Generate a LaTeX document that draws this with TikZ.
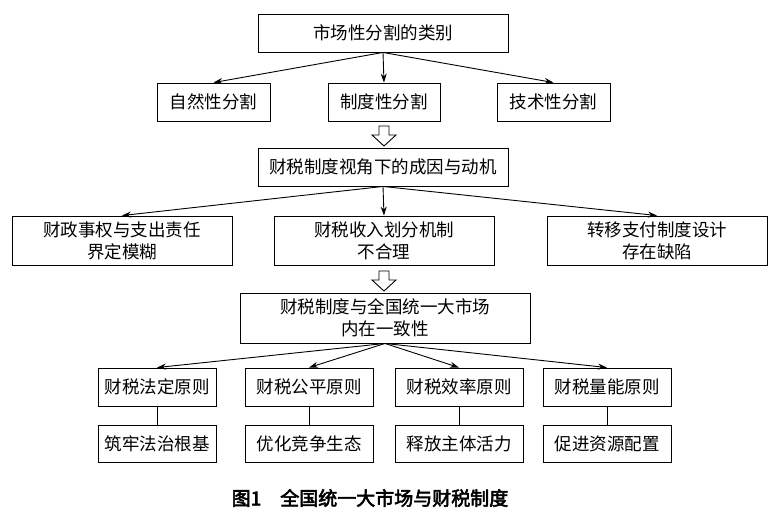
\documentclass[tikz,border=0pt]{standalone}
\usepackage{fontspec}
\setmainfont{Noto Sans CJK SC}[AutoFakeBold=3]
\usetikzlibrary{arrows.meta}
\begin{document}
\begin{tikzpicture}[x=1pt,y=-1pt,
  bx/.style={draw,line width=0.9pt,inner sep=0pt,align=center,font=\fontsize{17.5}{22}\selectfont},
  ar/.style={-{Stealth[length=9pt,width=6pt]},line width=0.9pt},
  ln/.style={line width=0.9pt}]
\useasboundingbox (0,0) rectangle (779,523);
\newcommand\bxx[6]{\node[bx,minimum width=#4-#2,minimum height=#5-#3] (#1) at ({(#2+#4)/2},{(#3+#5)/2}) {#6};}
\bxx{a}{258}{14}{508}{52}{市场性分割的类别}
\bxx{b1}{157}{83}{270}{121}{自然性分割}
\bxx{b2}{328}{83}{440}{121}{制度性分割}
\bxx{b3}{497}{83}{610}{121}{技术性分割}
\bxx{c}{258}{148}{508}{186}{财税制度视角下的成因与动机}
\bxx{d1}{12}{216}{232}{265}{财政事权与支出责任\\界定模糊}
\bxx{d2}{274}{216}{494}{265}{财税收入划分机制\\不合理}
\bxx{d3}{547}{216}{767}{265}{转移支付制度设计\\存在缺陷}
\bxx{e}{240}{293}{530}{343}{财税制度与全国统一大市场\\内在一致性}
\bxx{f1}{98}{368}{216}{406}{财税法定原则}
\bxx{f2}{245}{368}{373}{406}{财税公平原则}
\bxx{f3}{395}{368}{523}{406}{财税效率原则}
\bxx{f4}{543}{368}{671}{406}{财税量能原则}
\bxx{g1}{98}{425}{216}{462}{筑牢法治根基}
\bxx{g2}{245}{425}{373}{462}{优化竞争生态}
\bxx{g3}{395}{425}{523}{462}{释放主体活力}
\bxx{g4}{543}{425}{671}{462}{促进资源配置}
\foreach \t in {b1,b2,b3} \draw[ar] (a.south) -- (\t.north);
\foreach \t in {d1,d2,d3} \draw[ar] (c.south) -- (\t.north);
\foreach \t in {f1,f2,f3,f4} \draw[ar] (e.south) -- (\t.north);
\foreach \i in {1,2,3,4} \draw[ln] (f\i.south) -- (g\i.north);
\foreach \y in {126,271} \draw[ln,line join=miter] (379,\y) -- (389,\y) -- (389,\y+9) -- (396,\y+9) -- (384,\y+20) -- (372,\y+9) -- (379,\y+9) -- cycle;
\node[font=\bfseries\fontsize{19}{22}\selectfont] (cap) at (370,498) {图1\hspace{1em}全国统一大市场与财税制度};
\end{tikzpicture}
\end{document}
